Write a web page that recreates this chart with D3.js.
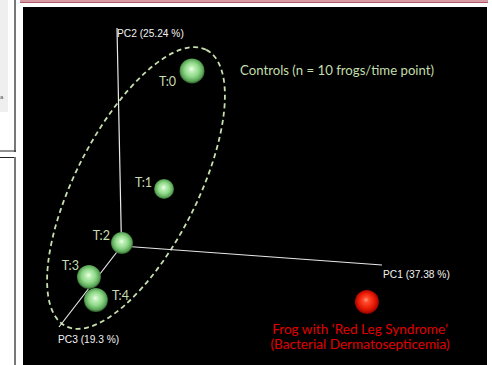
<!DOCTYPE html>
<html>
<head>
<meta charset="utf-8">
<script src="https://cdn.jsdelivr.net/npm/d3@7"></script>
<style>
  html, body { margin: 0; padding: 0; background: #fff; }
  svg { display: block; }
</style>
</head>
<body>
<script>
// PCA scores, expressed as fractions of each drawn axis length
const labels = ["T:0", "T:1", "T:2", "T:3", "T:4", "Red Leg"];
const pc1 = [0.285, 0.168, 0.002, -0.029, 0.033, 0.939];
const pc2 = [0.828, 0.276, 0.014, 0.004, -0.040, -0.175];
const pc3 = [0.000, 0.000, 0.000, 0.400, 0.550, 0.000];
const groups = ["control", "control", "control", "control", "control", "disease"];
const radii = [12.5, 10, 11, 12, 12, 12];

const axisNames = ["PC1 (37.38 %)", "PC2 (25.24 %)", "PC3 (19.3 %)"];
const controlsNote = "Controls (n = 10 frogs/time point)";
const diseaseNote = ["Frog with \u2018Red Leg Syndrome\u2019", "(Bacterial Dermatosepticemia)"];

const W = 492, H = 365;
const svg = d3.select("body").append("svg").attr("width", W).attr("height", H);

// ---- surrounding page furniture ----
svg.append("rect").attr("x", 0).attr("y", 0).attr("width", 8).attr("height", 112).attr("fill", "#efefef");
svg.append("text").attr("x", 0).attr("y", 99).attr("font-family", "Liberation Sans, Arial").attr("font-size", 6).attr("fill", "#555").text("a");
svg.append("line").attr("x1", 15).attr("y1", 0).attr("x2", 15).attr("y2", 152).attr("stroke", "#777").attr("stroke-width", 2);
svg.append("line").attr("x1", 0).attr("y1", 151).attr("x2", 16).attr("y2", 151).attr("stroke", "#222").attr("stroke-width", 1);
svg.append("line").attr("x1", 0).attr("y1", 157.5).attr("x2", 16).attr("y2", 157.5).attr("stroke", "#222").attr("stroke-width", 1);
svg.append("line").attr("x1", 15).attr("y1", 157).attr("x2", 15).attr("y2", H).attr("stroke", "#777").attr("stroke-width", 2);
svg.append("rect").attr("x", 20).attr("y", 0).attr("width", 468).attr("height", 2).attr("fill", "#d89aa4");
svg.append("line").attr("x1", 20).attr("y1", 2.5).attr("x2", 488).attr("y2", 2.5).attr("stroke", "#b25a68").attr("stroke-width", 1);

// ---- chart panel ----
const panel = { x: 23, y: 7, w: 464, h: H - 7 };
svg.append("rect").attr("x", panel.x).attr("y", panel.y).attr("width", panel.w).attr("height", panel.h).attr("fill", "#000");

// Oblique projection of the three PC axes
const origin = [121.5, 246];
const axisEnds = [[382, 265], [117, 28], [59, 327]];
const axisScales = axisEnds.map(e => ({
  x: d3.scaleLinear().domain([0, 1]).range([origin[0], e[0]]),
  y: d3.scaleLinear().domain([0, 1]).range([origin[1], e[1]])
}));
function project(a, b, c) {
  const v = [a, b, c];
  let x = origin[0], y = origin[1];
  v.forEach((s, i) => {
    x += axisScales[i].x(s) - origin[0];
    y += axisScales[i].y(s) - origin[1];
  });
  return [x, y];
}

const defs = svg.append("defs");
const gGreen = defs.append("radialGradient").attr("id", "sphereGreen").attr("cx", "50%").attr("cy", "48%").attr("r", "52%").attr("fx", "48%").attr("fy", "42%");
[[0, "#f6fff2"], [0.18, "#c4f2bc"], [0.55, "#8fd889"], [0.85, "#5aa656"], [1, "#2c5a2a"]].forEach(s =>
  gGreen.append("stop").attr("offset", s[0]).attr("stop-color", s[1]));
const gRed = defs.append("radialGradient").attr("id", "sphereRed").attr("cx", "50%").attr("cy", "48%").attr("r", "52%").attr("fx", "46%").attr("fy", "40%");
[[0, "#ff9c86"], [0.22, "#ff4a2a"], [0.65, "#e81a05"], [0.9, "#b00800"], [1, "#600000"]].forEach(s =>
  gRed.append("stop").attr("offset", s[0]).attr("stop-color", s[1]));

// Dashed ellipse around the control time points
const pts = labels.map((d, i) => project(pc1[i], pc2[i], pc3[i]));
svg.append("ellipse")
  .attr("cx", 0).attr("cy", 0).attr("rx", 155).attr("ry", 61)
  .attr("transform", "translate(136,188) rotate(-63)")
  .attr("fill", "none").attr("stroke", "#c6dfae").attr("stroke-width", 1.8)
  .attr("stroke-dasharray", "5,3.5");

// Axes
const axisG = svg.append("g");
axisEnds.forEach((e, i) => {
  axisG.append("line")
    .attr("x1", axisScales[i].x(0)).attr("y1", axisScales[i].y(0))
    .attr("x2", axisScales[i].x(1)).attr("y2", axisScales[i].y(1))
    .attr("stroke", "#e8e8e8").attr("stroke-width", 1.2);
});
const axisLabelPos = [[383, 278], [117, 37], [58, 343]];
axisNames.forEach((t, i) => {
  axisG.append("text").attr("x", axisLabelPos[i][0]).attr("y", axisLabelPos[i][1])
    .attr("font-family", "Liberation Sans, Arial, sans-serif").attr("font-size", 10.2)
    .attr("fill", "#f2f2f2").text(t);
});

// Spheres
svg.append("g").selectAll("circle").data(labels).join("circle")
  .attr("cx", (d, i) => pts[i][0]).attr("cy", (d, i) => pts[i][1])
  .attr("r", (d, i) => radii[i])
  .attr("fill", (d, i) => groups[i] === "control" ? "url(#sphereGreen)" : "url(#sphereRed)");

// Time point labels next to each control sphere
const labelOffsets = [[-16, 15], [-12, -2], [-12, -3], [-10, -7], [16, 0]];
svg.append("g").selectAll("text").data(labels.filter((d, i) => groups[i] === "control")).join("text")
  .attr("x", (d, i) => pts[i][0] + labelOffsets[i][0])
  .attr("y", (d, i) => pts[i][1] + labelOffsets[i][1])
  .attr("text-anchor", (d, i) => i === 4 ? "start" : "end")
  .attr("font-family", "Lato, 'Open Sans', sans-serif").attr("font-size", 12.5)
  .attr("fill", "#c9dcb2").text(d => d);

// Annotations
svg.append("text").attr("x", 240).attr("y", 75)
  .attr("font-family", "Lato, 'Open Sans', sans-serif").attr("font-size", 13.2)
  .attr("fill", "#c2deac").text(controlsNote);
svg.append("g").selectAll("text").data(diseaseNote).join("text")
  .attr("x", 360).attr("y", (d, i) => 334 + i * 15)
  .attr("text-anchor", "middle")
  .attr("font-family", "Lato, 'Open Sans', sans-serif").attr("font-size", 13.6)
  .attr("fill", "#e00000").text(d => d);
</script>
</body>
</html>
